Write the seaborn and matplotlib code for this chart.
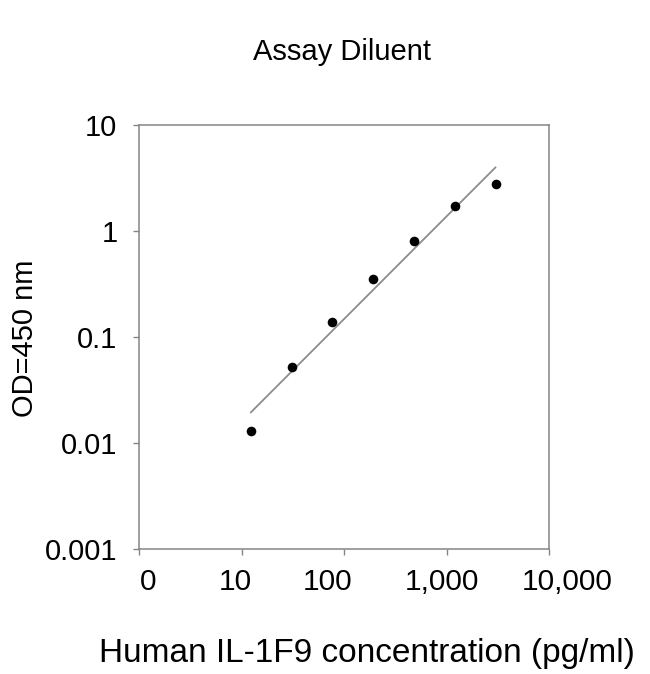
import numpy as np
import pandas as pd
import seaborn as sns
import matplotlib
matplotlib.use("Agg")
import matplotlib.pyplot as plt
import matplotlib.transforms as mtransforms
from matplotlib.ticker import FixedLocator, FixedFormatter, NullLocator

# Standard curve readings (log-log)
concentration = [12.3, 30.8, 77.1, 192.8, 482.0, 1205.0, 3012.5]   # pg/ml
od450 = [0.013, 0.0525, 0.138, 0.355, 0.81, 1.72, 2.79]

x_ticks = [1, 10, 100, 1000, 10000]
x_ticklabels = ["0", "10", "100", "1,000", "10,000"]
y_ticks = [0.001, 0.01, 0.1, 1, 10]
y_ticklabels = ["0.001", "0.01", "0.1", "1", "10"]

TITLE = "Assay Diluent"
XLABEL = "Human IL-1F9 concentration (pg/ml)"
YLABEL = "OD=450 nm"

df = pd.DataFrame({"conc": concentration, "od": od450})

# power trendline (straight line in log-log space)
slope, icept = np.polyfit(np.log10(df.conc), np.log10(df.od), 1)
fit = pd.DataFrame({"conc": [df.conc.min(), df.conc.max()]})
fit["od"] = 10 ** (icept + slope * np.log10(fit.conc))

sns.set_style("white")
plt.rcParams["font.family"] = ["Liberation Sans", "DejaVu Sans"]
plt.rcParams["text.color"] = "black"
AXIS_GREY = "#858585"

fig = plt.figure(figsize=(6.5, 6.74), dpi=100)
ax = fig.add_axes([139 / 650, 1 - 549 / 674, 410 / 650, 424 / 674])

sns.lineplot(x="conc", y="od", data=fit, ax=ax, color="#8c8c8c", linewidth=1.3)
sns.scatterplot(x="conc", y="od", data=df, ax=ax, color="black", s=48,
                edgecolor="black", linewidth=0, zorder=3)

ax.set_xscale("log")
ax.set_yscale("log")
ax.set_xlim(1, 10000)
ax.set_ylim(0.001, 10)

ax.xaxis.set_major_locator(FixedLocator(x_ticks))
ax.xaxis.set_major_formatter(FixedFormatter(x_ticklabels))
ax.yaxis.set_major_locator(FixedLocator(y_ticks))
ax.yaxis.set_major_formatter(FixedFormatter(y_ticklabels))
ax.xaxis.set_minor_locator(NullLocator())
ax.yaxis.set_minor_locator(NullLocator())

ax.tick_params(axis="x", direction="out", length=4, width=1, color=AXIS_GREY,
               labelsize=21.5, pad=10, labelcolor="black", bottom=True)
ax.tick_params(axis="y", direction="out", length=4.5, width=1, color=AXIS_GREY,
               labelsize=21, pad=11, labelcolor="black", left=True)
for sp in ax.spines.values():
    sp.set_color(AXIS_GREY)
    sp.set_linewidth(1.1)

# the original category labels sit a little off their ticks
label_shift_px = [9, -6, -16, -5, 18]
for lab, dx in zip(ax.get_xticklabels(), label_shift_px):
    lab.set_transform(lab.get_transform() +
                      mtransforms.ScaledTranslation(dx / 100, 0, fig.dpi_scale_trans))

ax.set_xlabel("")
ax.set_ylabel("")
ax.grid(False)

fig.text(342 / 650, 1 - 52 / 674, TITLE, ha="center", va="center", fontsize=21)
fig.text(367 / 650, 1 - 662 / 674, XLABEL, ha="center", va="baseline", fontsize=24)
fig.text(25 / 650, 1 - 338 / 674, YLABEL, ha="center", va="center",
         rotation=90, fontsize=21)

fig.savefig("out.png", dpi=100, facecolor="white")
